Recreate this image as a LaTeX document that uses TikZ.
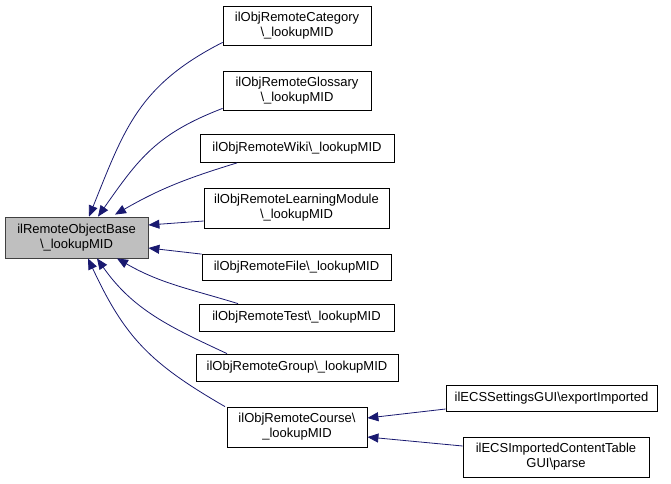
\documentclass[tikz,border=0pt]{standalone}
\usepackage{fontspec}
\setmainfont{Liberation Sans}
\usetikzlibrary{arrows.meta}
\definecolor{edgeblue}{HTML}{191970}
\newcommand{\bs}{\textbackslash}
\begin{document}
\begin{tikzpicture}[x=1pt,y=1pt,
    box/.style={draw=black,line width=0.8pt,fill=white,inner sep=0pt,align=center,
      font=\fontsize{13}{15}\selectfont},
    edge/.style={draw=edgeblue,line width=0.8pt,-{Triangle[length=11pt,width=9pt,fill=edgeblue]}}]
    \useasboundingbox (0,0) rectangle (671,483);
    % base class
    \node[box,fill=black!25,draw=black!75,minimum width=143pt,minimum height=41pt] (base) at (76.5,245.5) {ilRemoteObjectBase\\\bs\_lookupMID};
    % derived lookups
    \node[box,minimum width=148pt,minimum height=39pt] (cat) at (297,457.5) {ilObjRemoteCategory\\\bs\_lookupMID};
    \node[box,minimum width=148pt,minimum height=39pt] (glos) at (297,392.5) {ilObjRemoteGlossary\\\bs\_lookupMID};
    \node[box,minimum width=194pt,minimum height=28pt] (wiki) at (297,334.5) {ilObjRemoteWiki\bs\_lookupMID};
    \node[box,minimum width=185pt,minimum height=40pt] (lm) at (296.5,275) {ilObjRemoteLearningModule\\\bs\_lookupMID};
    \node[box,minimum width=189pt,minimum height=26pt] (file) at (296.5,215.5) {ilObjRemoteFile\bs\_lookupMID};
    \node[box,minimum width=195pt,minimum height=27pt] (test) at (296.5,165.5) {ilObjRemoteTest\bs\_lookupMID};
    \node[box,minimum width=202pt,minimum height=27pt] (group) at (297,115.5) {ilObjRemoteGroup\bs\_lookupMID};
    \node[box,minimum width=140pt,minimum height=40pt] (course) at (297,56) {ilObjRemoteCourse\bs\\\_lookupMID};
    % callers of the course lookup
    \node[box,minimum width=211pt,minimum height=26pt] (ecss) at (551.5,85) {ilECSSettingsGUI\bs exportImported};
    \node[box,minimum width=186pt,minimum height=40pt] (ecsi) at (556,26) {ilECSImportedContentTable\\GUI\bs parse};
    % edges
    \draw[edge] ([yshift=3pt]cat.south west) to[out=207,in=68,looseness=1.1] ([xshift=12.5pt]base.north);
    \draw[edge] ([yshift=2pt]glos.south west) to[out=201,in=55,looseness=1.1] ([xshift=21.5pt]base.north);
    \draw[edge] ([xshift=-60pt]wiki.south) to[out=197,in=30] ([xshift=38.5pt,yshift=2pt]base.north);
    \draw[edge] ([yshift=-13pt]lm.west) to ([yshift=12.5pt]base.east);
    \draw[edge] (file.north west) to ([yshift=-10.5pt]base.east);
    \draw[edge] ([xshift=-58.5pt]test.north) to[out=163,in=-30] ([xshift=40.5pt]base.south);
    \draw[edge] ([xshift=-70pt]group.north) to[out=155,in=-55] ([xshift=20.5pt]base.south);
    \draw[edge] ([xshift=-72pt]course.north) to[out=150,in=-65,looseness=1.1] ([xshift=11.5pt]base.south);
    \draw[edge] ([yshift=-11pt]ecss.west) to ([yshift=9pt]course.east);
    \draw[edge] ([yshift=11pt]ecsi.west) to ([yshift=-10pt]course.east);
\end{tikzpicture}
\end{document}
